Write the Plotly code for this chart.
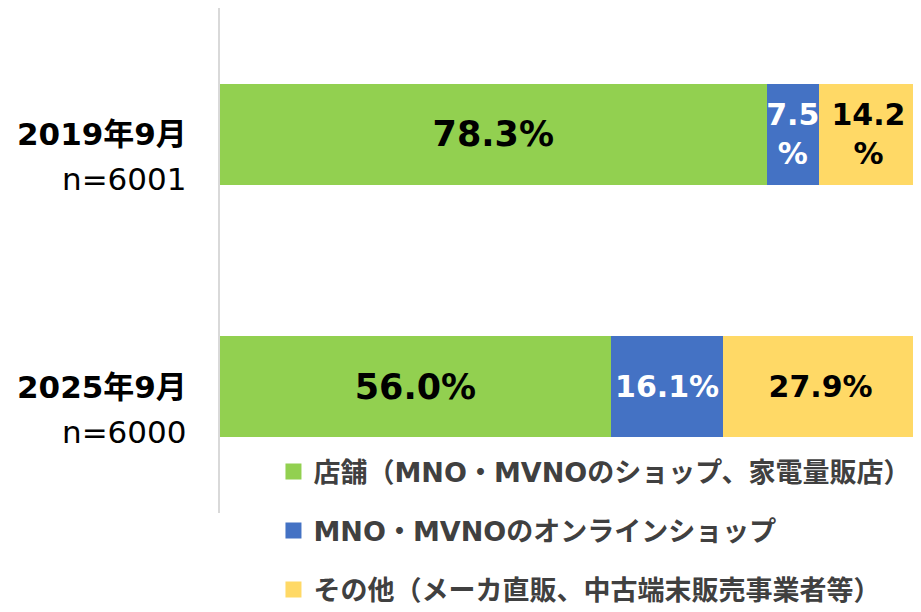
import plotly.graph_objects as go

categories = ["2019年9月", "2025年9月"]
sample_sizes = ["n=6001", "n=6000"]

store = [78.3, 56.0]
online = [7.5, 16.1]
other = [14.2, 27.9]

series_names = [
    "店舗（MNO・MVNOのショップ、家電量販店）",
    "MNO・MVNOのオンラインショップ",
    "その他（メーカ直販、中古端末販売事業者等）",
]
colors = ["#92D050", "#4472C4", "#FFD966"]
text_colors = ["#000000", "#FFFFFF", "#000000"]
text_sizes = [35, 30, 30]

FONT = "DejaVu Sans, Noto Sans CJK JP"

# the page body adds an 8px margin, so the figure is 8px smaller each way
W, H = 913, 604


def pct_labels(values, wrap=True):
    # narrow segments wrap the % sign onto a second line, like the original
    return [f"{v:.1f}<br>%" if (wrap and v < 15) else f"{v:.1f}%" for v in values]


fig = go.Figure()

for i, (name, vals, color, tcol, tsize) in enumerate(zip(
    series_names, [store, online, other], colors, text_colors, text_sizes
)):
    fig.add_trace(
        go.Bar(
            y=categories,
            x=vals,
            orientation="h",
            name=name,
            marker=dict(color=color, line=dict(width=0)),
            text=pct_labels(vals, wrap=i > 0),
            textposition="inside",
            insidetextanchor="middle",
            textangle=0,
            constraintext="none",
            textfont=dict(family=FONT, size=tsize, color=tcol, weight="bold"),
            showlegend=False,
            hoverinfo="skip",
        )
    )

# legend entries with bigger square swatches
for i, (name, color) in enumerate(zip(series_names, colors)):
    fig.add_trace(
        go.Scatter(
            x=[None],
            y=[None],
            mode="markers",
            name=name,
            legendgroup=f"g{i}",
            marker=dict(symbol="square", size=16, color=color),
        )
    )

# category labels on the left
for cat, n in zip(categories, sample_sizes):
    fig.add_annotation(
        x=0, xref="paper", y=cat, yref="y",
        text=f"<b>{cat}</b>", showarrow=False,
        xanchor="right", yanchor="middle", xshift=-31, yshift=0,
        font=dict(family=FONT, size=31, color="#000000"),
    )
    fig.add_annotation(
        x=0, xref="paper", y=cat, yref="y",
        text=n, showarrow=False,
        xanchor="right", yanchor="middle", xshift=-31, yshift=-45,
        font=dict(family=FONT, size=31, color="#000000"),
    )

fig.update_layout(
    width=W,
    height=H,
    margin=dict(l=212, r=3, t=0, b=99, autoexpand=False),
    paper_bgcolor="white",
    plot_bgcolor="white",
    barmode="stack",
    bargap=0.6,
    font=dict(family=FONT),
    xaxis=dict(
        range=[0, 100],
        showgrid=False,
        zeroline=False,
        showticklabels=False,
        showline=False,
        fixedrange=True,
    ),
    yaxis=dict(
        categoryorder="array",
        categoryarray=categories,
        autorange="reversed",
        showgrid=False,
        zeroline=False,
        showticklabels=False,
        showline=True,
        linecolor="#D9D9D9",
        linewidth=2,
        ticks="",
    ),
    legend=dict(
        x=0.0766,
        y=0.13,
        xanchor="left",
        yanchor="top",
        orientation="v",
        traceorder="grouped",
        tracegroupgap=21,
        itemsizing="trace",
        font=dict(family=FONT, size=27, color="#404040", weight="bold"),
        bgcolor="rgba(0,0,0,0)",
    ),
)

fig.write_html("out.html")
